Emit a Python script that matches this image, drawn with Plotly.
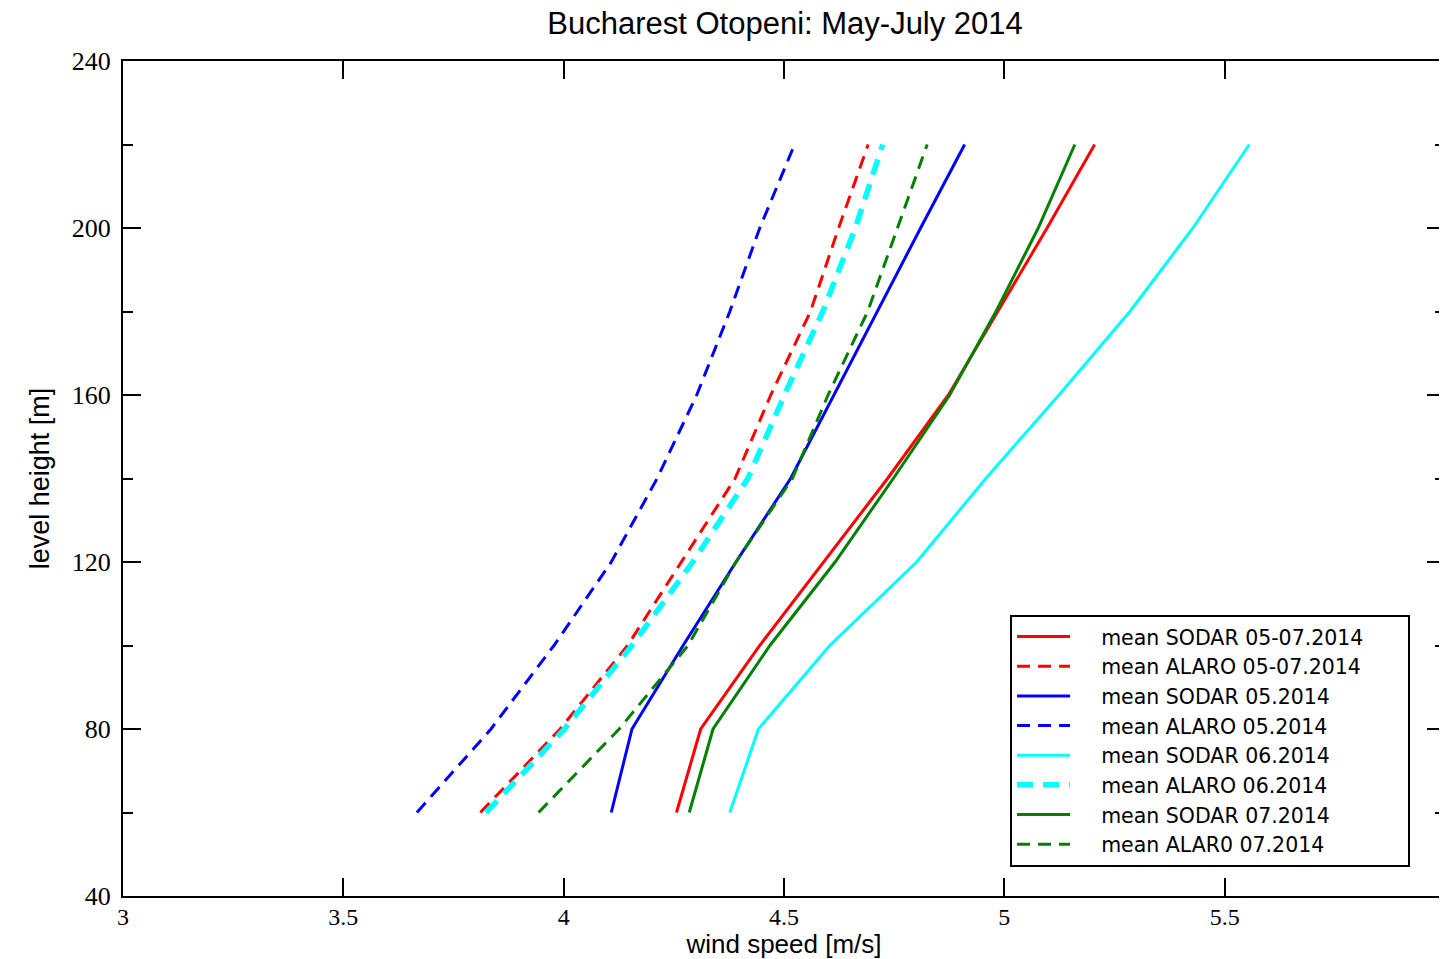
import plotly.graph_objects as go

heights = [60, 80, 100, 120, 140, 160, 180, 200, 220]

sodar_all = [4.256, 4.311, 4.445, 4.589, 4.735, 4.873, 4.986, 5.097, 5.205]
alaro_all = [3.811, 3.992, 4.145, 4.268, 4.389, 4.470, 4.560, 4.624, 4.691]
sodar_05 = [4.108, 4.155, 4.271, 4.391, 4.515, 4.613, 4.712, 4.810, 4.910]
alaro_05 = [3.667, 3.835, 3.978, 4.108, 4.212, 4.302, 4.377, 4.445, 4.524]
sodar_06 = [4.377, 4.442, 4.604, 4.801, 4.958, 5.124, 5.285, 5.428, 5.556]
alaro_06 = [3.824, 4.002, 4.155, 4.293, 4.418, 4.501, 4.588, 4.662, 4.724]
sodar_07 = [4.285, 4.339, 4.468, 4.616, 4.748, 4.876, 4.981, 5.077, 5.160]
alaro_07 = [3.943, 4.126, 4.282, 4.391, 4.519, 4.600, 4.690, 4.758, 4.825]

x_ticks = [3, 3.5, 4, 4.5, 5, 5.5, 6]
x_ticktext = ["3", "3.5", "4", "4.5", "5", "5.5", "6"]
y_ticks = [40, 80, 120, 160, 200, 240]
y_minor = [60, 100, 140, 180, 220]

series = [
    ("mean SODAR 05-07.2014", sodar_all, "#ff0000", "solid", 3),
    ("mean ALARO 05-07.2014", alaro_all, "#ff0000", "13px,8px", 3),
    ("mean SODAR 05.2014", sodar_05, "#0000ff", "solid", 3),
    ("mean ALARO 05.2014", alaro_05, "#0000ff", "13px,8px", 3),
    ("mean SODAR 06.2014", sodar_06, "#00ffff", "solid", 3),
    ("mean ALARO 06.2014", alaro_06, "#00ffff", "16px,10px", 5.5),
    ("mean SODAR 07.2014", sodar_07, "#008000", "solid", 3),
    ("mean ALAR0 07.2014", alaro_07, "#008000", "13px,8px", 3),
]

LEAD = "\u00a0" * 4
TRAIL = "\u00a0" * 6

fig = go.Figure()
for i, (name, xs, color, dash, w) in enumerate(series):
    label = LEAD + name + (TRAIL if i == 0 else "")
    fig.add_trace(go.Scatter(
        x=xs, y=heights, mode="lines", name=label,
        line=dict(color=color, dash=dash, width=w),
    ))

fig.update_layout(
    width=1439, height=951,
    margin=dict(l=115, r=2, t=53, b=63, autoexpand=False),
    paper_bgcolor="white", plot_bgcolor="white",
    title=dict(text="Bucharest Otopeni: May-July 2014", x=0.54, xanchor="center",
               y=0.984, yanchor="middle",
               font=dict(family="Liberation Sans, Arial", size=31, color="black")),
    showlegend=True,
    legend=dict(x=0.671, y=0.035, xanchor="left", yanchor="bottom",
                bgcolor="white", bordercolor="black", borderwidth=2,
                font=dict(family="DejaVu Sans, Liberation Sans, Arial", size=20.5, color="black"),
                itemwidth=53, tracegroupgap=0),
)

fig.update_xaxes(
    range=[3, 6], tickvals=x_ticks, ticktext=x_ticktext,
    automargin=False,
    ticks="inside", ticklen=18, tickwidth=1.5, tickcolor="black",
    showline=True, linecolor="black", linewidth=2, mirror="ticks",
    showgrid=False, zeroline=False,
    ticklabelstandoff=-2,
    tickfont=dict(family="Liberation Serif, Times New Roman", size=24, color="black"),
    title=dict(text="wind speed [m/s]", standoff=0,
               font=dict(family="Liberation Sans, Arial", size=26, color="black")),
)
fig.update_yaxes(
    range=[40, 240], tickvals=y_ticks,
    automargin=False,
    ticks="inside", ticklen=18, tickwidth=1.5, tickcolor="black",
    minor=dict(tickvals=y_minor, ticks="inside", ticklen=10,
               tickwidth=1.5, tickcolor="black"),
    showline=True, linecolor="black", linewidth=2, mirror="ticks",
    showgrid=False, zeroline=False,
    ticklabelstandoff=5,
    tickfont=dict(family="Liberation Serif, Times New Roman", size=26, color="black"),
    title=dict(text="level height [m]", standoff=14,
               font=dict(family="Liberation Sans, Arial", size=27, color="black")),
)

fig.write_html("out.html")
